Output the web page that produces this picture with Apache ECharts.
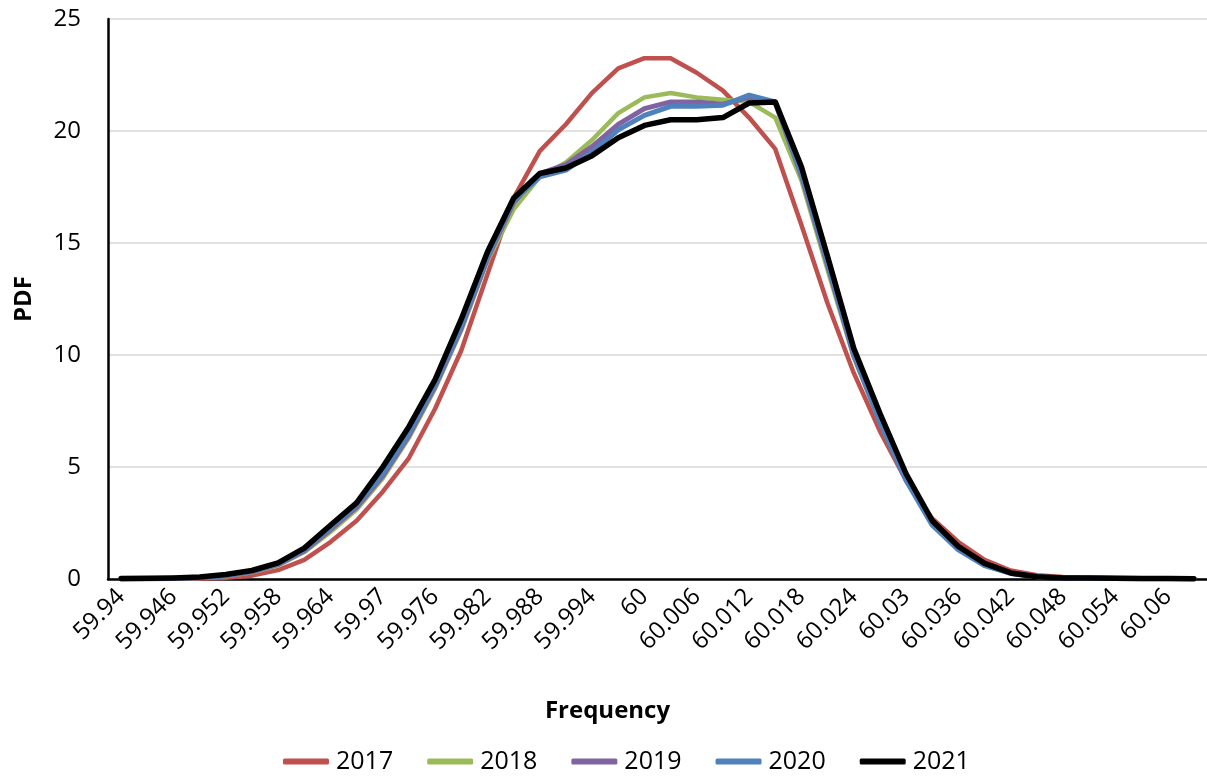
<!DOCTYPE html>
<html>
<head>
<meta charset="utf-8">
<script src="https://cdn.jsdelivr.net/npm/echarts@6/dist/echarts.min.js"></script>
<style>
html,body{margin:0;padding:0;background:#fff;}
#chart{width:1207px;height:776px;}
</style>
</head>
<body>
<div id="chart"></div>
<script>
const categories = ['59.94','59.943','59.946','59.949','59.952','59.955','59.958','59.961','59.964','59.967','59.97','59.973','59.976','59.979','59.982','59.985','59.988','59.991','59.994','59.997','60','60.003','60.006','60.009','60.012','60.015','60.018','60.021','60.024','60.027','60.03','60.033','60.036','60.039','60.042','60.045','60.048','60.051','60.054','60.057','60.06','60.063'];

const s2017 = [0,0,0.01,0.02,0.05,0.15,0.4,0.85,1.65,2.6,3.9,5.4,7.6,10.2,13.6,17.0,19.1,20.3,21.7,22.8,23.25,23.25,22.6,21.8,20.6,19.2,15.8,12.3,9.2,6.6,4.4,2.7,1.65,0.85,0.38,0.17,0.09,0.06,0.04,0.03,0.02,0.01];
const s2018 = [0,0.01,0.02,0.05,0.12,0.3,0.6,1.2,2.1,3.1,4.5,6.3,8.5,11.1,14.2,16.5,17.95,18.6,19.6,20.8,21.5,21.7,21.5,21.4,21.3,20.6,17.8,13.8,9.9,7.0,4.5,2.5,1.35,0.65,0.27,0.1,0.05,0.03,0.02,0.01,0.01,0];
const s2019 = [0,0.01,0.02,0.06,0.14,0.32,0.65,1.25,2.2,3.2,4.6,6.4,8.6,11.2,14.3,16.8,18.1,18.5,19.3,20.3,21.0,21.3,21.3,21.2,21.5,21.25,18.0,14.0,10.0,7.1,4.5,2.5,1.35,0.62,0.26,0.1,0.05,0.03,0.02,0.01,0.01,0];
const s2020 = [0,0.01,0.03,0.07,0.16,0.34,0.68,1.3,2.3,3.3,4.7,6.5,8.7,11.3,14.4,16.9,17.95,18.25,19.05,20.05,20.7,21.1,21.1,21.15,21.6,21.3,18.1,14.1,10.0,7.0,4.4,2.4,1.3,0.6,0.25,0.1,0.05,0.03,0.02,0.01,0.01,0];
const s2021 = [0.02,0.03,0.05,0.09,0.2,0.38,0.72,1.38,2.4,3.4,5.0,6.8,8.9,11.6,14.6,17.0,18.1,18.35,18.9,19.7,20.25,20.5,20.5,20.6,21.25,21.3,18.4,14.4,10.3,7.4,4.7,2.6,1.45,0.7,0.27,0.1,0.05,0.04,0.03,0.02,0.02,0.01];

const seriesNames = ['2017','2018','2019','2020','2021'];
const seriesData = [s2017, s2018, s2019, s2020, s2021];
const colors = ['#C0504D','#9BBB59','#8064A2','#4F81BD','#000000'];
const widths = [4.5, 4.5, 5, 5, 5.5];

const FONT = 'Open Sans';
const chart = echarts.init(document.getElementById('chart'), null, {renderer:'canvas'});
chart.setOption({
  animation: false,
  backgroundColor: '#fff',
  grid: {left: 108, top: 19, right: -10, bottom: 197, containLabel: false},
  xAxis: {
    type: 'category',
    data: categories,
    boundaryGap: true,
    name: 'Frequency',
    nameLocation: 'middle',
    nameGap: 120,
    nameTextStyle: {fontFamily: FONT, fontWeight: 'bold', fontSize: 24, color: '#000', padding: [0, 100, 0, 0]},
    axisLine: {lineStyle: {color: '#000', width: 2.5}},
    axisTick: {show: false},
    axisLabel: {interval: 1, rotate: 45, margin: 14, fontFamily: FONT, fontSize: 24, color: '#000'},
    splitLine: {show: false}
  },
  yAxis: {
    type: 'value',
    min: 0, max: 25, interval: 5,
    name: 'PDF',
    nameLocation: 'middle',
    nameGap: 72,
    nameTextStyle: {fontFamily: FONT, fontWeight: 'bold', fontSize: 24, color: '#000'},
    axisLine: {show: true, lineStyle: {color: '#000', width: 2.5}},
    axisTick: {show: false},
    axisLabel: {margin: 27, fontFamily: FONT, fontSize: 24, color: '#000'},
    splitLine: {lineStyle: {color: '#d9d9d9', width: 1.5}}
  },
  legend: {
    data: seriesNames,
    icon: 'roundRect',
    left: 278,
    top: 744,
    itemWidth: 46,
    itemHeight: 6,
    itemGap: 34,
    textStyle: {fontFamily: FONT, fontSize: 25, color: '#000', padding: [0, 0, 0, 2]}
  },
  series: seriesNames.map((n, k) => ({
    name: n,
    type: 'line',
    data: seriesData[k],
    symbol: 'none',
    smooth: false,
    color: colors[k],
    itemStyle: {color: colors[k]},
    lineStyle: {color: colors[k], width: widths[k], cap: 'round', join: 'round'},
    z: 2 + k
  }))
});
</script>
</body>
</html>
